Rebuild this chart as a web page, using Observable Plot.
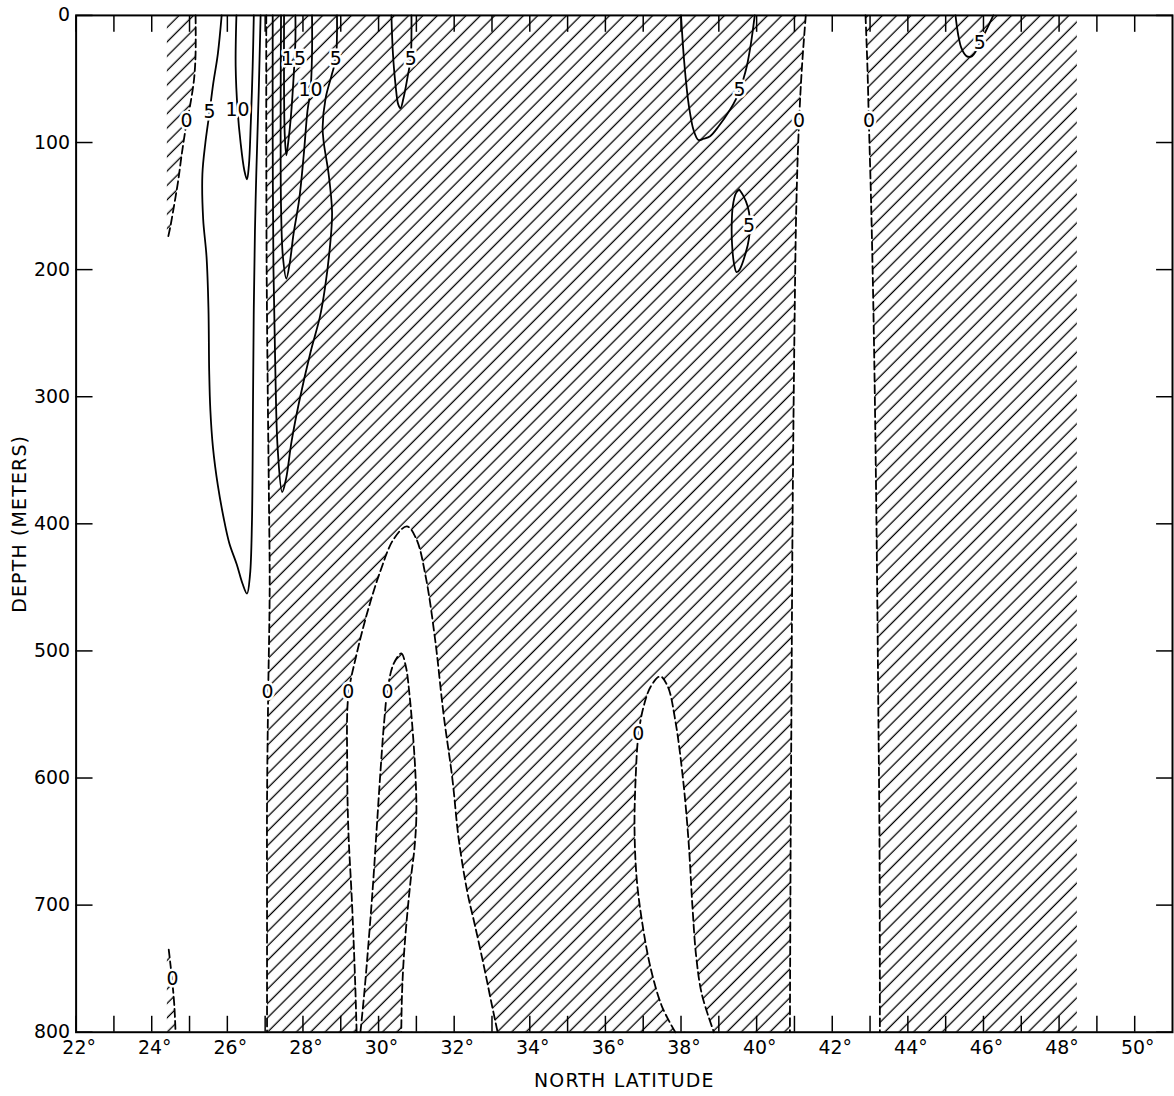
<!DOCTYPE html>
<html><head><meta charset="utf-8">
<script src="https://cdn.jsdelivr.net/npm/d3@7"></script>
<script src="https://cdn.jsdelivr.net/npm/@observablehq/plot@0.6"></script>
<style>
html,body{margin:0;padding:0;background:#fff;overflow:hidden;}
#chart svg{display:block;}
g[aria-label="x-axis label"] text, g[aria-label="y-axis label"] text {letter-spacing: 1.2px;}
</style></head><body>
<svg width="0" height="0" style="position:absolute">
<defs>
<pattern id="hatch" patternUnits="userSpaceOnUse" width="10.2" height="10.2" patternTransform="rotate(45)">
<line x1="5" y1="-2" x2="5" y2="12.2" stroke="#000" stroke-width="1.3"/>
</pattern>
</defs></svg>
<div id="chart"></div>
<script>
// ---- axis ticks ----
const latLabels = [22,24,26,28,30,32,34,36,38,40,42,44,46,48,50];
const latTicks = [22,23,24,25,26,27,28,29,30,31,32,33,34,35,36,37,38,39,40,41,42,43,44,45,46,47,48,49,50];
const depthTicks = [0,100,200,300,400,500,600,700,800];

// ---- data edges (first/last station, degrees N) ----
const stationWest = 24.4;
const stationEast = 48.47;

// ---- zero contours (dashed): [latitude, depth m] ----
const zeroWestTop = [[25.16,0],[25.16,30],[25.12,50],[25.02,70],[24.92,85],[24.8,108],[24.7,130],[24.6,148],[24.5,165],[24.43,175]];
const zeroWestDeep = [[24.45,735],[24.5,748],[24.55,762],[24.6,780],[24.63,800]];
const zero27 = [[27.03,0],[27.03,100],[27.04,200],[27.07,300],[27.1,380],[27.12,450],[27.08,535],[27.05,620],[27.05,700],[27.05,800]];
const zeroHole1 = [[29.42,800],[29.38,760],[29.3,700],[29.2,640],[29.17,590],[29.2,535],[29.4,505],[29.7,470],[30.05,437],[30.4,412],[30.75,402],[31.0,412],[31.25,442],[31.5,492],[31.72,550],[31.95,600],[32.12,648],[32.35,690],[32.55,716],[32.8,750],[33.0,779],[33.15,800]];
const zeroIsland = [[29.52,800],[29.62,770],[29.72,735],[29.85,685],[29.95,640],[30.05,595],[30.15,555],[30.24,530],[30.4,510],[30.6,502],[30.72,512],[30.82,535],[30.92,570],[30.98,600],[31.0,630],[30.95,655],[30.85,680],[30.75,710],[30.67,740],[30.62,770],[30.6,800]];
const zeroHole2 = [[37.85,800],[37.5,780],[37.2,750],[36.98,715],[36.83,680],[36.77,640],[36.8,600],[36.87,567],[37.0,545],[37.2,528],[37.45,520],[37.65,528],[37.85,555],[38.05,600],[38.2,650],[38.3,700],[38.4,740],[38.55,770],[38.87,800]];
const zero41 = [[41.3,0],[41.2,40],[41.12,85],[41.05,150],[41.0,250],[40.95,400],[40.92,550],[40.9,650],[40.88,800]];
const zero43 = [[42.88,0],[42.93,40],[42.97,85],[43.03,150],[43.1,250],[43.17,400],[43.22,550],[43.25,650],[43.26,800]];

// ---- positive-magnitude contours (solid) ----
const c5West = [[25.85,0],[25.75,30],[25.62,55],[25.53,76],[25.42,100],[25.34,125],[25.36,160],[25.45,190],[25.5,230],[25.52,280],[25.55,310],[25.62,340],[25.75,370],[25.9,395],[26.05,415],[26.25,432],[26.4,447],[26.52,455],[26.6,440],[26.65,400],[26.68,300],[26.7,230],[26.73,170],[26.77,120],[26.83,60],[26.88,0]];
const c10West = [[26.24,0],[26.22,40],[26.27,74],[26.35,100],[26.45,122],[26.52,129],[26.57,118],[26.62,85],[26.67,40],[26.7,0]];
const c5Lat28 = [[27.2,0],[27.2,100],[27.22,200],[27.27,280],[27.33,340],[27.45,375],[27.55,365],[27.7,335],[27.9,304],[28.2,265],[28.45,237],[28.58,215],[28.72,180],[28.77,155],[28.68,125],[28.55,100],[28.52,88],[28.6,65],[28.75,48],[28.87,34],[28.9,15],[28.9,0]];
const c10Lat28 = [[27.42,0],[27.41,80],[27.42,150],[27.47,190],[27.56,207],[27.65,195],[27.75,172],[27.9,145],[28.02,110],[28.12,75],[28.2,59],[28.24,30],[28.24,0]];
const c15Lat28 = [[27.5,0],[27.5,60],[27.52,95],[27.56,110],[27.61,100],[27.68,80],[27.76,45],[27.8,20],[27.8,0]];
const c5Lat30 = [[30.34,0],[30.38,30],[30.45,55],[30.52,70],[30.58,73],[30.66,65],[30.77,48],[30.85,34],[30.87,15],[30.87,0]];
const c5Lat38 = [[38.0,0],[38.08,35],[38.18,65],[38.24,77],[38.33,90],[38.46,98],[38.6,97],[38.77,95],[39.0,87],[39.3,74],[39.45,66],[39.55,59],[39.65,50],[39.74,40],[39.85,22],[39.95,0]];
const c5Lat39 = [[39.54,137],[39.65,142],[39.76,150],[39.82,160],[39.8,175],[39.7,188],[39.55,200],[39.47,202],[39.4,195],[39.35,180],[39.34,166],[39.37,150],[39.45,140],[39.54,137]];
const c5Lat46 = [[45.26,0],[45.33,15],[45.42,26],[45.55,32],[45.7,32],[45.8,28],[45.9,22],[46.1,10],[46.26,0]];

// ---- contour labels ----
const labelText  = ["0","5","10","15","10","5","5","5","5","5","0","0","0","0","0","0","0"];
const labelLat   = [24.92,25.53,26.27,27.76,28.2,28.87,30.85,39.55,39.8,45.9,41.12,42.97,27.06,29.2,30.24,36.87,24.55];
const labelDepth = [83,76,74,34,59,34,34,59,166,22,83,83,532,532,532,565,758];

// ---- build tables ----
const rows = (pts, id) => pts.map(([lat, depth]) => ({lat, depth, id}));
// join boundary pieces into one closed outline; doubled end points keep corners sharp
const ring = (...parts) => parts.flatMap(p => [p[0], ...p, p[p.length - 1]]);
const hatchRings = [
  ...rows(ring(zeroWestTop, [[stationWest, 175]], [[stationWest, 0]]), "h1"),
  ...rows(ring([[stationWest, 735]], zeroWestDeep, [[stationWest, 800]]), "h2"),
  ...rows(ring(zero27, zero41.slice().reverse()), "h3"),
  ...rows(ring(zero43, [[stationEast, 800]], [[stationEast, 0]]), "h4")
];
const holeRings = [...rows(ring(zeroHole1), "w1"), ...rows(ring(zeroHole2), "w2")];
const islandRing = rows(ring(zeroIsland), "i1");
const zeroLines = [
  ...rows(zeroWestTop,"a"), ...rows(zeroWestDeep,"b"), ...rows(zero27,"c"), ...rows(zeroHole1,"d"),
  ...rows(zeroIsland,"e"), ...rows(zeroHole2,"f"), ...rows(zero41,"g"), ...rows(zero43,"h")
];
const solidLines = [
  ...rows(c5West,"a"), ...rows(c10West,"b"), ...rows(c5Lat28,"c"), ...rows(c10Lat28,"d"),
  ...rows(c15Lat28,"e"), ...rows(c5Lat30,"f"), ...rows(c5Lat38,"g"), ...rows(c5Lat39,"h"), ...rows(c5Lat46,"i")
];
const labels = labelText.map((t, i) => ({t, lat: labelLat[i], depth: labelDepth[i]}));

const font = "DejaVu Sans";
const chart = Plot.plot({
  width: 1180, height: 1096,
  marginLeft: 76, marginRight: 2, marginTop: 15, marginBottom: 59,
  x: {domain: [22, 51]},
  y: {domain: [0, 800], reverse: true},
  style: {fontFamily: font, fontSize: "19px", color: "#000", background: "#fff"},
  marks: [
    Plot.line(hatchRings, {x: "lat", y: "depth", z: "id", fill: "url(#hatch)", stroke: "none", curve: "catmull-rom", clip: true}),
    Plot.line(holeRings, {x: "lat", y: "depth", z: "id", fill: "white", stroke: "none", curve: "catmull-rom", clip: true}),
    Plot.line(islandRing, {x: "lat", y: "depth", z: "id", fill: "url(#hatch)", stroke: "none", curve: "catmull-rom", clip: true}),
    Plot.line(zeroLines, {x: "lat", y: "depth", z: "id", stroke: "#000", strokeWidth: 1.8, strokeDasharray: "8,4", curve: "catmull-rom"}),
    Plot.line(solidLines, {x: "lat", y: "depth", z: "id", stroke: "#000", strokeWidth: 1.8, curve: "catmull-rom"}),
    Plot.text(labels, {x: "lat", y: "depth", text: "t", fill: "#000", stroke: "white", strokeWidth: 5, fontSize: 19}),
    Plot.frame({stroke: "#000", strokeWidth: 2}),
    Plot.axisX({ticks: latLabels, anchor: "bottom", tickSize: 0, tickPadding: 8, dx: 3, tickFormat: d => d + "°", label: "NORTH LATITUDE", labelAnchor: "center", labelOffset: 55, labelArrow: "none", fontSize: 19}),
    Plot.axisX({ticks: latTicks, anchor: "bottom", tickSize: -16, strokeWidth: 1.5, tickFormat: () => "", label: null}),
    Plot.axisX({ticks: latTicks, anchor: "top", tickSize: -16, strokeWidth: 1.5, tickFormat: () => "", label: null}),
    Plot.axisY({ticks: depthTicks, anchor: "left", tickSize: 0, tickPadding: 6, label: "DEPTH (METERS)", labelAnchor: "center", labelOffset: 64, labelArrow: "none", fontSize: 19}),
    Plot.axisY({ticks: depthTicks, anchor: "left", tickSize: -17, strokeWidth: 1.5, tickFormat: () => "", label: null}),
    Plot.axisY({ticks: depthTicks, anchor: "right", tickSize: -17, strokeWidth: 1.5, tickFormat: () => "", label: null})
  ]
});
document.getElementById("chart").appendChild(chart);
</script>
</body></html>
